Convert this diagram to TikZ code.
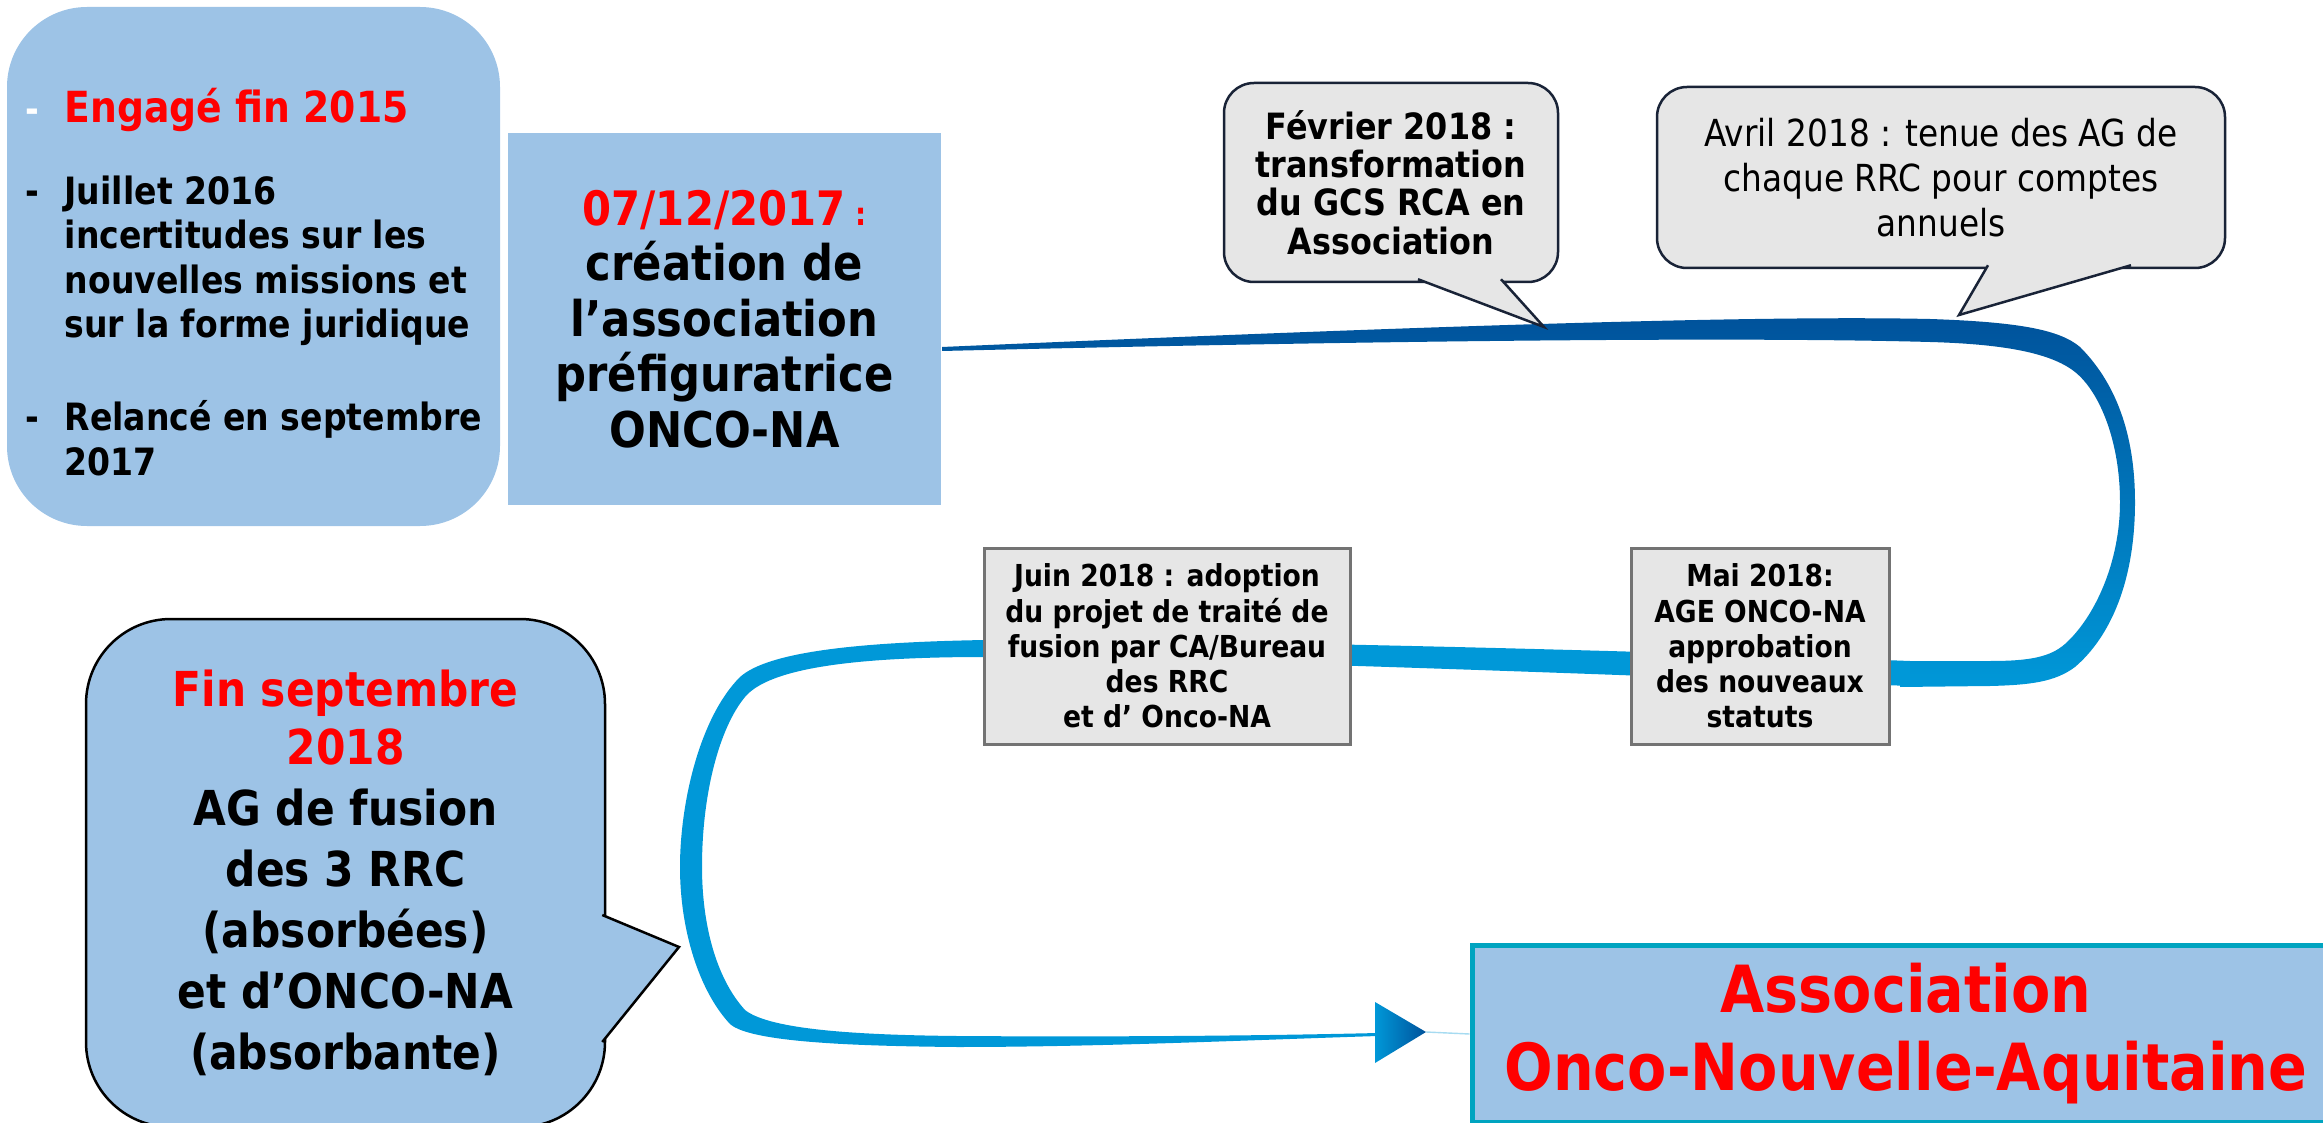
\documentclass[tikz,border=0pt]{standalone}
\usepackage{fontspec}
\setmainfont{DejaVu Sans}[FakeStretch=0.88]
\usetikzlibrary{calc}

\definecolor{fondbleu}{RGB}{157,195,230}
\definecolor{fondgris}{RGB}{230,230,230}
\definecolor{bordbulle}{RGB}{25,35,55}
\definecolor{rubanfonce}{RGB}{0,82,155}
\definecolor{rubanclair}{RGB}{0,152,216}
\definecolor{bordfinal}{RGB}{0,164,192}
\definecolor{rouge}{RGB}{255,0,0}

\def\bec[#1](#2)(#3)(#4){\path[#1, draw=none] (#2) -- (#3) -- (#4) -- cycle; \draw[#1, fill=none] (#2) -- (#3) -- (#4);}

\tikzset{
	boite/.style={fill=fondbleu, inner sep=0pt, align=center, font=\bfseries},
	bulle/.style={fill=fondgris, draw=bordbulle, line width=0.25mm, rounded corners=0.3cm, inner sep=0pt, align=center},
	etape/.style={fill=fondgris, draw=black!55, line width=0.3mm, inner sep=0pt, align=center, font=\bfseries\fontsize{8.6}{10}\selectfont}
}

\begin{document}
\begin{tikzpicture}
			%%%%% START %%%%%
			\useasboundingbox (0, 0) rectangle (23.23, 11.22);
			
			\shade[top color=rubanfonce, bottom color=rubanclair] (9.42, 7.75) .. controls (14, 7.95) and (17.5, 8.07) .. (19.3, 8.03) .. controls (20.2, 8) and (20.6, 7.92) .. (20.8, 7.75) .. controls (21.2, 7.35) and (21.35, 6.8) .. (21.35, 6.2) .. controls (21.35, 5.4) and (21.1, 4.85) .. (20.75, 4.55) .. controls (20.55, 4.4) and (20.3, 4.37) .. (19.9, 4.36) -- (19, 4.35) -- (19, 4.61) -- (19.9, 4.61) .. controls (20.3, 4.61) and (20.5, 4.65) .. (20.65, 4.78) .. controls (20.95, 5.05) and (21.2, 5.6) .. (21.2, 6.2) .. controls (21.2, 6.8) and (21, 7.3) .. (20.75, 7.5) .. controls (20.5, 7.7) and (20, 7.78) .. (19.3, 7.8) .. controls (17.5, 7.85) and (14, 7.82) .. (9.42, 7.71) -- cycle;
			
			\fill[rubanclair] (19.1, 4.61) .. controls (16, 4.73) and (12, 4.82) .. (9.85, 4.82) .. controls (8.7, 4.8) and (7.7, 4.72) .. (7.4, 4.45) .. controls (7, 4.05) and (6.8, 3.2) .. (6.8, 2.55) .. controls (6.8, 1.9) and (7, 1.3) .. (7.3, 0.98) .. controls (7.5, 0.8) and (8.5, 0.76) .. (9.57, 0.75) .. controls (11, 0.75) and (12.5, 0.82) .. (13.78, 0.86) -- (13.78, 0.89) .. controls (12.5, 0.86) and (11, 0.85) .. (9.57, 0.86) .. controls (8.6, 0.87) and (7.7, 0.92) .. (7.45, 1.12) .. controls (7.15, 1.45) and (7.02, 2) .. (7.02, 2.55) .. controls (7.02, 3.3) and (7.2, 3.95) .. (7.45, 4.25) .. controls (7.7, 4.55) and (8.6, 4.65) .. (9.85, 4.65) .. controls (12, 4.63) and (16, 4.48) .. (19.1, 4.36) -- cycle;
			
			\coordinate (pointe) at (14.26, 0.9);
			\shade[left color=rubanclair, right color=rubanfonce] (13.75, 1.2) -- (pointe) -- (13.75, 0.59) -- cycle;
			
			\node[boite, rounded corners=0.8cm, minimum width=4.93cm, minimum height=5.19cm] (debut) at (2.535, 8.555) {};
			\node[anchor=north west, inner sep=0pt, align=left, font=\bfseries\fontsize{10.7}{12.66}\selectfont] (debuttexte) at (0.64, 10.34) {\leavevmode\llap{\textcolor{white}{-}\hspace{2.5mm}}\textcolor{rouge}{\fontsize{12.2}{12.66}\selectfont Engagé fin 2015}\\[10.4pt]
				\leavevmode\llap{-\hspace{2.5mm}}Juillet 2016\\
				incertitudes sur les\\
				nouvelles missions et\\
				sur la forme juridique\\[13.8pt]
				\leavevmode\llap{-\hspace{2.5mm}}Relancé en septembre\\
				2017};
			
			\node[boite, minimum width=4.33cm, minimum height=3.72cm, font=\bfseries\fontsize{14}{15.8}\selectfont] (creation) at (7.245, 8.03) {{\color{rouge}\fontsize{13.5}{15.8}\selectfont 07/12/2017\fontsize{9}{15.8}\selectfont\ :}\\ création de\\ l’association\\ préfiguratrice\\ ONCO-NA};
			
			\node[bulle, minimum width=3.34cm, minimum height=1.99cm, font=\bfseries\fontsize{10.3}{10.9}\selectfont] (fevrier) at (13.91, 9.395) {Février 2018 :\\ transformation\\ du GCS RCA en\\ Association};
			\coordinate (fevrierg) at ($(fevrier.south)+(0.27, 0.04)$);
			\coordinate (fevrierd) at ($(fevrier.south)+(1.1, 0.04)$);
			\bec[fill=fondgris, draw=bordbulle, line width=0.25mm](fevrierg)(15.44, 7.95)(fevrierd)
			
			\node[bulle, minimum width=5.68cm, minimum height=1.81cm, font=\fontsize{10.6}{12.7}\selectfont] (avril) at (19.41, 9.445) {Avril 2018 : tenue des AG de\\ chaque RRC pour comptes\\ annuels};
			\coordinate (avrilg) at ($(avril.south)+(0.47, 0.04)$);
			\coordinate (avrild) at ($(avril.south)+(1.9, 0.04)$);
			\bec[fill=fondgris, draw=bordbulle, line width=0.25mm](avrilg)(19.59, 8.07)(avrild)
			
			\node[etape, minimum width=3.66cm, minimum height=1.96cm] (juin) at (11.67, 4.76) {Juin 2018 : adoption\\ du projet de traité de\\ fusion par CA/Bureau\\ des RRC\\ et d’ Onco-NA};
			\node[etape, minimum width=2.58cm, minimum height=1.96cm] (mai) at (17.6, 4.76) {Mai 2018:\\ AGE ONCO-NA\\ approbation\\ des nouveaux\\ statuts};
			
			\node[boite, draw=black, line width=0.25mm, rounded corners=0.85cm, minimum width=5.19cm, minimum height=5.08cm, font=\bfseries\fontsize{13.7}{17.4}\selectfont] (fusion) at (3.455, 2.49) {\textcolor{rouge}{Fin septembre}\\[-1pt] \textcolor{rouge}{2018}\\ AG de fusion\\ des 3 RRC\\ (absorbées)\\ et d’ONCO-NA\\ (absorbante)};
			\coordinate (fusionh) at ($(fusion.east)+(-0.04, -0.42)$);
			\coordinate (fusionb) at ($(fusion.east)+(-0.04, -1.69)$);
			\bec[fill=fondbleu, draw=black, line width=0.25mm](fusionh)(6.79, 1.75)(fusionb)
			
			\node[boite, draw=bordfinal, line width=0.5mm, minimum width=8.68cm, minimum height=1.77cm, text=rouge, font=\bfseries\fontsize{18.5}{22.2}\selectfont] (final) at (19.06, 0.88) {Association\\ Onco-Nouvelle-Aquitaine};
			
			\draw[rubanclair!35] (pointe) -- (final.west);
			%%%%% END %%%%%
\end{tikzpicture}
\end{document}
